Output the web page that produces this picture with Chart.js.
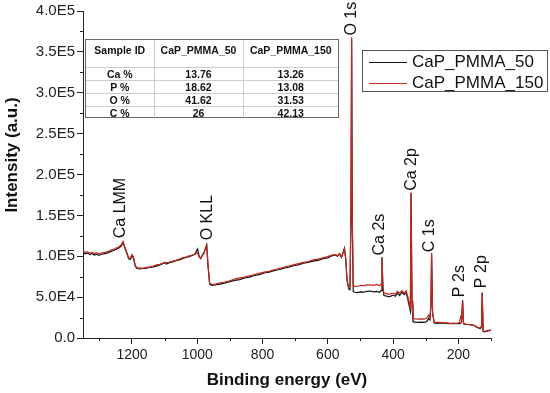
<!DOCTYPE html>
<html>
<head>
<meta charset="utf-8">
<title>XPS survey</title>
<script src="https://cdn.jsdelivr.net/npm/chart.js@4.4.0/dist/chart.umd.min.js"></script>
<style>
  html, body { margin: 0; padding: 0; background: #fff; }
  #wrap { position: relative; width: 550px; height: 393px; font-family: 'Liberation Sans', Arial, sans-serif; }
  #xps { position: absolute; left: 0; top: 0; }
  #tableBox { position: absolute; left: 85px; top: 39px; width: 254px; height: 79px; box-sizing: border-box; border: 1px solid #666; background: #fff; }
  #compTable { border-collapse: collapse; width: 252px; font-size: 10.5px; font-weight: bold; color: #111; }
  #compTable td { padding: 0; text-align: center; border-left: 1px solid #ccc; border-top: 1px solid #ccc; height: 12px; line-height: 12px; }
  #compTable td:first-child { border-left: none; }
  #compTable tr:first-child td { border-top: none; height: 27px; vertical-align: top; padding-top: 4px; box-sizing: border-box; }
  #legendBox { position: absolute; left: 362px; top: 50px; width: 186px; height: 42px; box-sizing: border-box; border: 1px solid #555; background: #fff; }
  .lg-item { position: absolute; left: 0; height: 20px; width: 184px; }
  .lg-line { position: absolute; left: 6px; top: 10px; width: 38px; height: 1.3px; }
  .lg-text { position: absolute; left: 49px; top: 0; font-size: 17px; line-height: 20px; color: #111; }
</style>
</head>
<body>
<div id="wrap">
  <canvas id="xps" width="550" height="393"></canvas>
  <div id="tableBox"><table id="compTable"></table></div>
  <div id="legendBox"></div>
</div>
<script>
// XPS survey spectra — CaP_PMMA_50 vs CaP_PMMA_150
const FONT = "'Liberation Sans', Arial, sans-serif";

// binding energy grid (eV), shared by both spectra
const bindingEnergy = [
  1350, 1343, 1336, 1329, 1322, 1315, 1308, 1301, 1294, 1287,
  1280, 1272, 1264, 1256, 1248, 1240, 1233, 1227, 1222, 1216,
  1210, 1205, 1200, 1195, 1190, 1185, 1175, 1165, 1155, 1145,
  1135, 1125, 1115, 1105, 1100, 1095, 1085, 1075, 1065, 1055,
  1045, 1035, 1025, 1015, 1008, 1003, 999, 994, 989, 984,
  979, 975, 971, 967, 962, 955, 945, 930, 915, 900,
  885, 870, 855, 840, 825, 810, 795, 780, 765, 750,
  735, 720, 705, 690, 675, 660, 645, 630, 615, 600,
  588, 578, 570, 564, 558, 553, 549, 545, 541, 536,
  532, 529, 527, 525, 522, 518, 510, 500, 490, 480,
  470, 460, 450, 442, 437, 434, 431, 428, 422, 415,
  408, 400, 393, 387, 380, 373, 366, 360, 355, 350,
  347, 345, 342, 339, 333, 325, 315, 305, 297, 291,
  287, 284, 282, 279, 274, 265, 255, 245, 235, 225,
  215, 205, 197, 193, 190, 187, 184, 178, 170, 160,
  150, 143, 137, 132, 129, 127, 124, 120, 112, 100
];

// intensity (a.u.)
const counts50 = [
  104500, 103000, 104000, 102000, 103500, 101500, 102500, 101000, 102500, 103000,
  103500, 104500, 106000, 107000, 108500, 110000, 112500, 117000, 110000, 104000,
  97000, 96000, 101000, 97000, 88000, 85000, 84500, 85000, 85500, 86500,
  87000, 88000, 89500, 91000, 92500, 90500, 92000, 93000, 94500, 95500,
  97000, 98500, 99500, 101000, 102500, 106000, 109000, 100000, 97500, 101000,
  104000, 110000, 114000, 88000, 66000, 64500, 65000, 66000, 67500, 69000,
  70500, 71500, 73500, 74500, 76500, 77500, 79500, 80500, 82500, 83500,
  85500, 86500, 88500, 89500, 91500, 92500, 94000, 95000, 97000, 98000,
  100500, 101500, 100000, 103000, 98500, 105000, 110000, 96000, 70000, 60000,
  59000, 150000, 366000, 140000, 57000, 56000, 55500, 56500, 56000, 57000,
  57500, 56500, 57000, 56000, 58000, 99000, 60000, 52000, 51500, 50500,
  51000, 52500, 51000, 55000, 52000, 56000, 53000, 55500, 48000, 38000,
  33000, 177000, 40000, 20000, 19500, 19000, 19500, 19000, 20000, 24000,
  22000, 40000, 103000, 30000, 18500, 18000, 18500, 18000, 18000, 17500,
  18000, 17500, 17500, 18000, 20000, 46000, 18000, 16500, 16500, 16000,
  15000, 13000, 12000, 11500, 14000, 55000, 8000, 7500, 8500, 9500
];

const counts150 = [
  106000, 105000, 105500, 104000, 104500, 103500, 104000, 103000, 104000, 104500,
  105000, 106000, 107500, 108500, 110000, 111500, 114000, 118000, 111500, 105000,
  98000, 97500, 102000, 98500, 89000, 86000, 85500, 85500, 86500, 87000,
  88000, 89500, 90000, 91500, 91500, 92000, 93000, 94000, 95000, 96500,
  98000, 99000, 100500, 101500, 102500, 103500, 104000, 99000, 97000, 102000,
  105000, 109000, 113000, 90000, 67000, 65500, 66000, 67500, 68500, 70000,
  72000, 73500, 74500, 76000, 77500, 79000, 80500, 81500, 83500, 85000,
  86500, 88000, 89500, 91000, 92500, 93500, 95500, 96500, 98000, 99500,
  101500, 102000, 101000, 103500, 99000, 104000, 109000, 97000, 72000, 62000,
  64000, 160000, 368000, 150000, 64000, 63500, 63000, 64500, 64000, 65000,
  65000, 64500, 65500, 64000, 66000, 98000, 62000, 55000, 54500, 53500,
  54000, 55000, 53500, 57000, 55000, 58000, 55000, 57500, 51000, 42000,
  35000, 178000, 45000, 24000, 23500, 23000, 23500, 23000, 24500, 28000,
  24000, 42000, 104000, 32000, 19000, 19000, 19000, 18500, 18500, 18000,
  18000, 18000, 19000, 26000, 22000, 44000, 17000, 17000, 16500, 16000,
  15500, 13500, 12500, 12000, 15000, 56000, 8500, 8000, 9000, 10000
];

const seriesNames = ['CaP_PMMA_50', 'CaP_PMMA_150'];
const seriesColors = ['#111111', '#c4281c'];

const xTicks = [1200, 1000, 800, 600, 400, 200];
const xMinor = [1300, 1100, 900, 700, 500, 300, 100];
const yTicks = [0, 50000, 100000, 150000, 200000, 250000, 300000, 350000, 400000];
const yMinor = [25000, 75000, 125000, 175000, 225000, 275000, 325000, 375000];

// peak annotations (label anchored at energy / intensity)
const peakNames = ['Ca LMM', 'O KLL', 'O 1s', 'Ca 2s', 'Ca 2p', 'C 1s', 'P 2s', 'P 2p'];
const peakEnergy = [1236, 969, 528, 442, 344, 288, 196, 128];
const peakLabelY = [122000, 119500, 370000, 101000, 180000, 105000, 50000, 61000];

// inset composition table
const tableHeader = ['Sample ID', 'CaP_PMMA_50', 'CaP_PMMA_150'];
const elements = ['Ca %', 'P %', 'O %', 'C %'];
const atomic50 = ['13.76', '18.62', '41.62', '26'];
const atomic150 = ['13.26', '13.08', '31.53', '42.13'];

function sciLabel(v) {
  if (v === 0) return '0.0';
  const exp = Math.floor(Math.log10(v));
  return (v / Math.pow(10, exp)).toFixed(1) + 'E' + exp;
}

// minor ticks, peak labels and the y title
const decor = {
  id: 'decor',
  afterDraw(chart) {
    const { ctx, chartArea, scales: { x, y } } = chart;
    ctx.save();
    ctx.strokeStyle = '#222';
    ctx.lineWidth = 1;
    ctx.beginPath();
    xMinor.forEach(v => {
      const px = Math.round(x.getPixelForValue(v)) + 0.5;
      ctx.moveTo(px, chartArea.bottom);
      ctx.lineTo(px, chartArea.bottom + 3);
    });
    yMinor.forEach(v => {
      const py = Math.round(y.getPixelForValue(v)) + 0.5;
      ctx.moveTo(chartArea.left, py);
      ctx.lineTo(chartArea.left - 3, py);
    });
    ctx.stroke();

    ctx.fillStyle = '#111';
    ctx.font = '16px ' + FONT;
    ctx.textAlign = 'left';
    ctx.textBaseline = 'middle';
    peakNames.forEach((name, i) => {
      ctx.save();
      ctx.translate(x.getPixelForValue(peakEnergy[i]), y.getPixelForValue(peakLabelY[i]));
      ctx.rotate(-Math.PI / 2);
      ctx.fillText(name, 0, 0);
      ctx.restore();
    });

    ctx.font = 'bold 17px ' + FONT;
    ctx.textAlign = 'center';
    ctx.translate(12, 155);
    ctx.rotate(-Math.PI / 2);
    ctx.fillText('Intensity (a.u.)', 0, 0);
    ctx.restore();
  }
};

const axisCommon = {
  grid: { display: true, drawOnChartArea: false, drawTicks: true, tickLength: 6, tickColor: '#222' },
  border: { display: true, color: '#222', width: 1 }
};

const chart = new Chart(document.getElementById('xps'), {
  type: 'line',
  data: {
    datasets: [counts50, counts150].map((vals, i) => ({
      label: seriesNames[i],
      data: bindingEnergy.map((e, j) => ({ x: e, y: vals[j] })),
      borderColor: seriesColors[i],
      borderWidth: 1.2,
      pointRadius: 0,
      tension: 0,
      fill: false,
      order: 1 - i
    }))
  },
  options: {
    responsive: false,
    animation: false,
    layout: { padding: { left: 0, right: 59, top: 10, bottom: 0 } },
    plugins: { legend: { display: false }, tooltip: { enabled: false } },
    scales: {
      x: {
        ...axisCommon,
        type: 'linear',
        reverse: true,
        min: 100,
        max: 1350,
        afterBuildTicks: s => { s.ticks = xTicks.map(v => ({ value: v })); },
        afterFit: s => { s.height = 55; },
        ticks: { font: { size: 14, family: FONT }, color: '#222', padding: 3, maxRotation: 0, autoSkip: false, callback: v => String(v) },
        title: { display: true, text: 'Binding energy (eV)', color: '#111', font: { size: 17, weight: 'bold', family: FONT }, padding: { top: 0, bottom: 2 } }
      },
      y: {
        ...axisCommon,
        min: 0,
        max: 400000,
        afterBuildTicks: s => { s.ticks = yTicks.map(v => ({ value: v })); },
        afterFit: s => { s.width = 83; },
        ticks: { font: { size: 15, family: FONT }, color: '#222', padding: 2, callback: v => sciLabel(v) }
      }
    }
  },
  plugins: [decor]
});

// inset table
const tbl = document.getElementById('compTable');
const colW = [68, 89, 95];
let html = '<tr>' + tableHeader.map((h, i) => `<td style="width:${colW[i]}px">${h}</td>`).join('') + '</tr>';
elements.forEach((el, i) => {
  html += `<tr><td>${el}</td><td>${atomic50[i]}</td><td>${atomic150[i]}</td></tr>`;
});
tbl.innerHTML = html;

// legend built from the datasets
document.getElementById('legendBox').innerHTML = chart.data.datasets.map((ds, i) =>
  `<div class="lg-item" style="top:${1 + i * 21}px">
     <span class="lg-line" style="background:${ds.borderColor}"></span>
     <span class="lg-text">${ds.label}</span>
   </div>`).join('');
</script>
</body>
</html>
